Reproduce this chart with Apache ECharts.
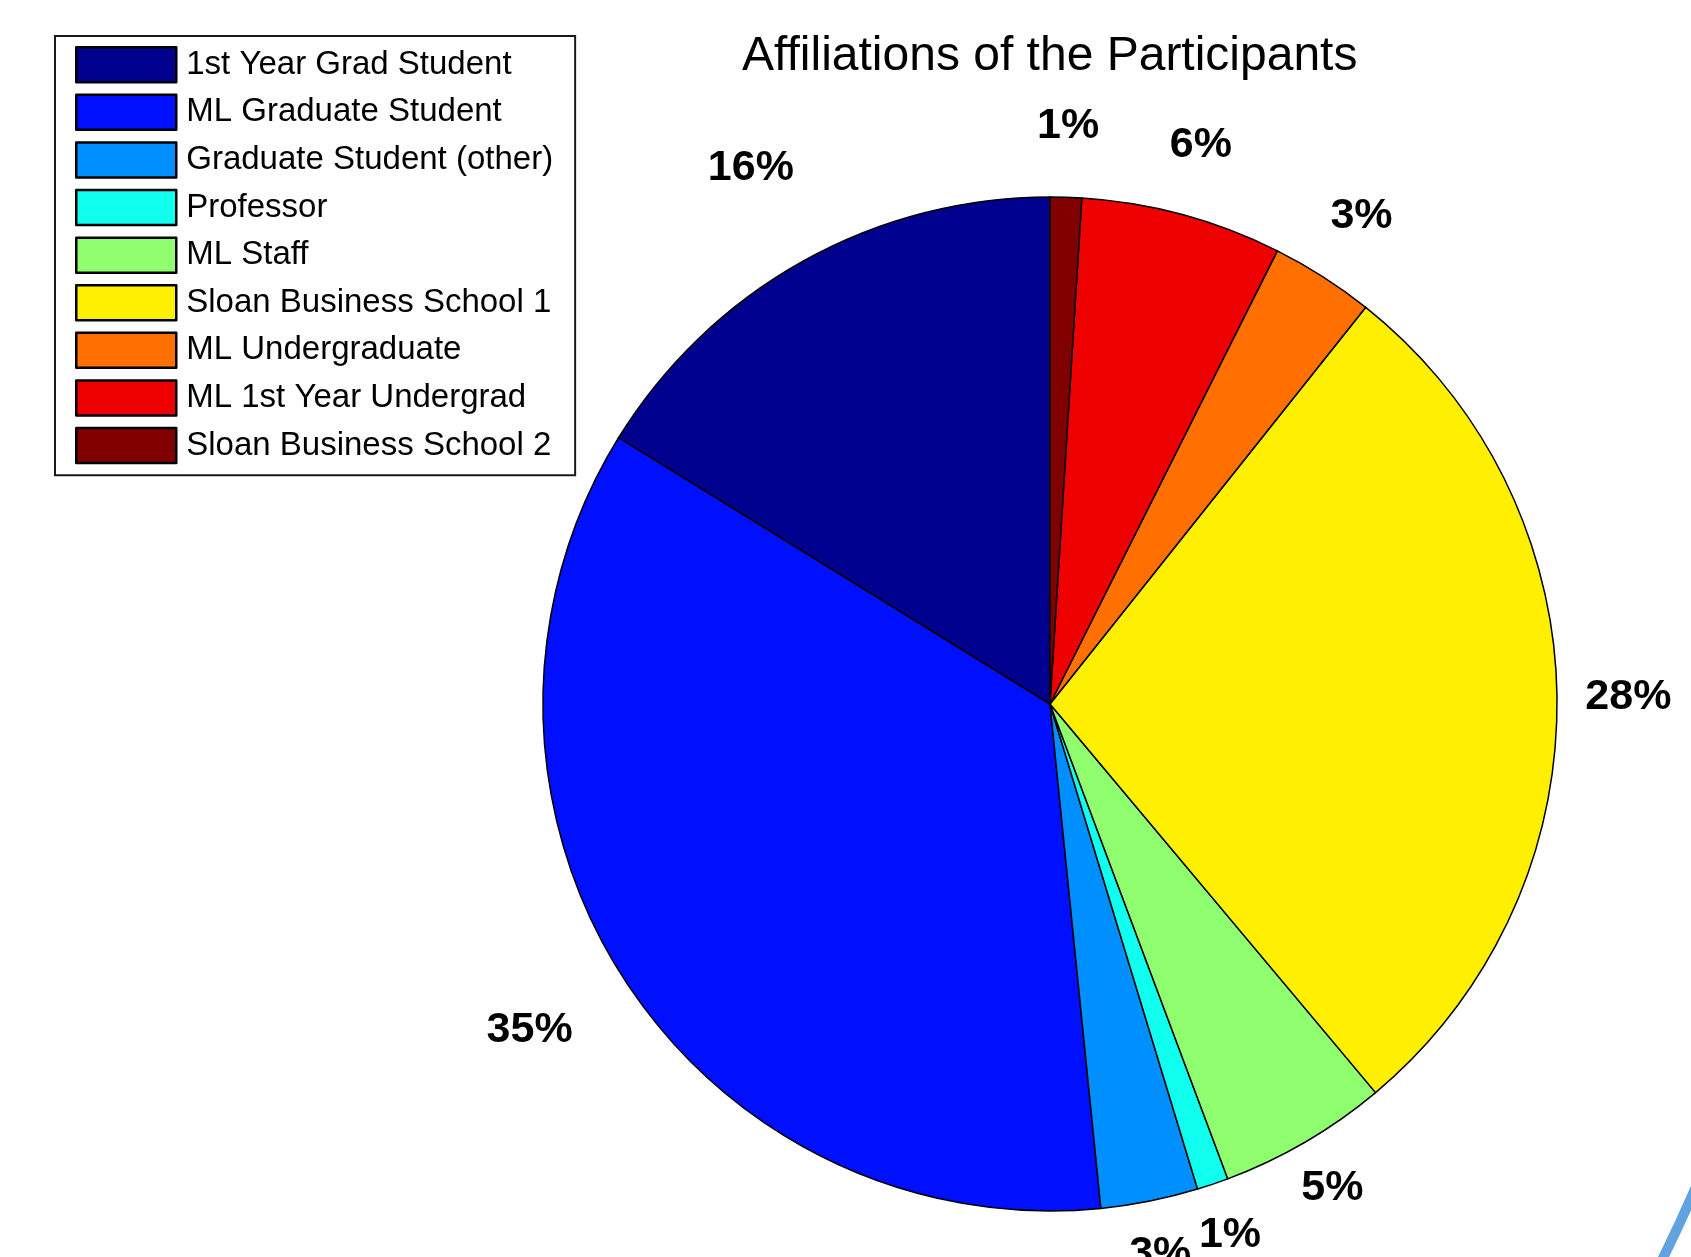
<!DOCTYPE html>
<html>
<head>
<meta charset="utf-8">
<title>Affiliations of the Participants</title>
<script src="https://cdn.jsdelivr.net/npm/echarts@6/dist/echarts.min.js"></script>
<style>
  html, body { margin: 0; padding: 0; background: #ffffff; }
  #chart { width: 1691px; height: 1257px; }
</style>
</head>
<body>
<div id="chart"></div>
<script>
// Participant groups, in drawing order (counter-clockwise from 12 o'clock)
const categories = [
  '1st Year Grad Student',
  'ML Graduate Student',
  'Graduate Student (other)',
  'Professor',
  'ML Staff',
  'Sloan Business School 1',
  'ML Undergraduate',
  'ML 1st Year Undergrad',
  'Sloan Business School 2'
];

// Share of participants in each group (percent)
const shares = [16.2, 35.4, 3.1, 1.0, 5.4, 28.2, 3.3, 6.4, 1.0];

// Jet colormap entries, one per group
const sliceColors = [
  '#00008F', '#0010FF', '#008FFF', '#10FFEF', '#8FFF70',
  '#FFEF00', '#FF7000', '#EF0000', '#800000'
];

const FONT = '"Liberation Sans", Arial, Helvetica, sans-serif';
const CENTER = [1050, 704];
const R = 507;

const total = shares.reduce((a, b) => a + b, 0);

// Middle angle of every slice, in degrees counter-clockwise from the top
const midAngles = [];
let acc = 0;
shares.forEach(v => {
  midAngles.push((acc + v / 2) / total * 360);
  acc += v;
});

// Label placement groups: left half, upper right, lower right
const labelGroup = midAngles.map(a => (a < 180 ? 'left' : a < 270 ? 'lowerRight' : 'upperRight'));

const pctText = p => Math.round(p.value / total * 100) + '%';

// Transparent ring that only carries the percentage labels of one group
function labelRing(inner, outer, group) {
  return {
    type: 'pie',
    silent: true,
    animation: false,
    center: CENTER,
    radius: [inner * R, outer * R],
    startAngle: 90,
    clockwise: false,
    avoidLabelOverlap: false,
    itemStyle: { color: 'rgba(0,0,0,0)', borderWidth: 0 },
    emphasis: { disabled: true },
    labelLine: { show: false },
    label: {
      position: 'inside',
      rotate: 0,
      formatter: pctText,
      fontFamily: FONT,
      fontSize: 43,
      fontWeight: 'bold',
      color: '#000'
    },
    data: categories.map((name, i) => ({
      name: name,
      value: shares[i],
      label: { show: labelGroup[i] === group }
    }))
  };
}

const chart = echarts.init(document.getElementById('chart'), null, { renderer: 'canvas' });

chart.setOption({
  backgroundColor: '#ffffff',
  animation: false,
  title: {
    text: 'Affiliations of the Participants',
    left: 737,
    top: 28,
    textStyle: {
      fontFamily: FONT,
      fontSize: 48,
      fontWeight: 'normal',
      color: '#000'
    }
  },
  legend: {
    orient: 'vertical',
    left: 55,
    top: 36,
    padding: [10, 22, 11, 20],
    itemWidth: 100,
    itemHeight: 35,
    itemGap: 10.1,
    icon: 'rect',
    selectedMode: false,
    borderColor: '#1a1a1a',
    borderWidth: 2,
    backgroundColor: '#fff',
    itemStyle: { borderColor: '#000', borderWidth: 2.5 },
    textStyle: {
      fontFamily: FONT,
      fontSize: 33,
      lineHeight: 35,
      color: '#000',
      padding: [0, 0, 0, 5]
    },
    data: categories.map((name, i) => ({
      name: name,
      itemStyle: { color: sliceColors[i], borderColor: '#000', borderWidth: 2.5 }
    }))
  },
  graphic: [
    {
      // decorative slide border arc in the lower right corner
      type: 'arc',
      silent: true,
      shape: { cx: 319, cy: 592, r: 1500, startAngle: 20 * Math.PI / 180, endAngle: 30 * Math.PI / 180 },
      style: { stroke: '#62A3DF', lineWidth: 10, fill: null }
    }
  ],
  series: [
    {
      type: 'pie',
      animation: false,
      center: CENTER,
      radius: R,
      startAngle: 90,
      clockwise: false,
      avoidLabelOverlap: false,
      emphasis: { disabled: true },
      label: { show: false },
      labelLine: { show: false },
      itemStyle: { borderColor: '#000', borderWidth: 1.5 },
      data: categories.map((name, i) => ({
        name: name,
        value: shares[i],
        itemStyle: { color: sliceColors[i] }
      }))
    },
    labelRing(1.185, 1.225, 'left'),
    labelRing(1.115, 1.155, 'upperRight'),
    labelRing(1.08, 1.12, 'lowerRight')
  ]
});
</script>
</body>
</html>
